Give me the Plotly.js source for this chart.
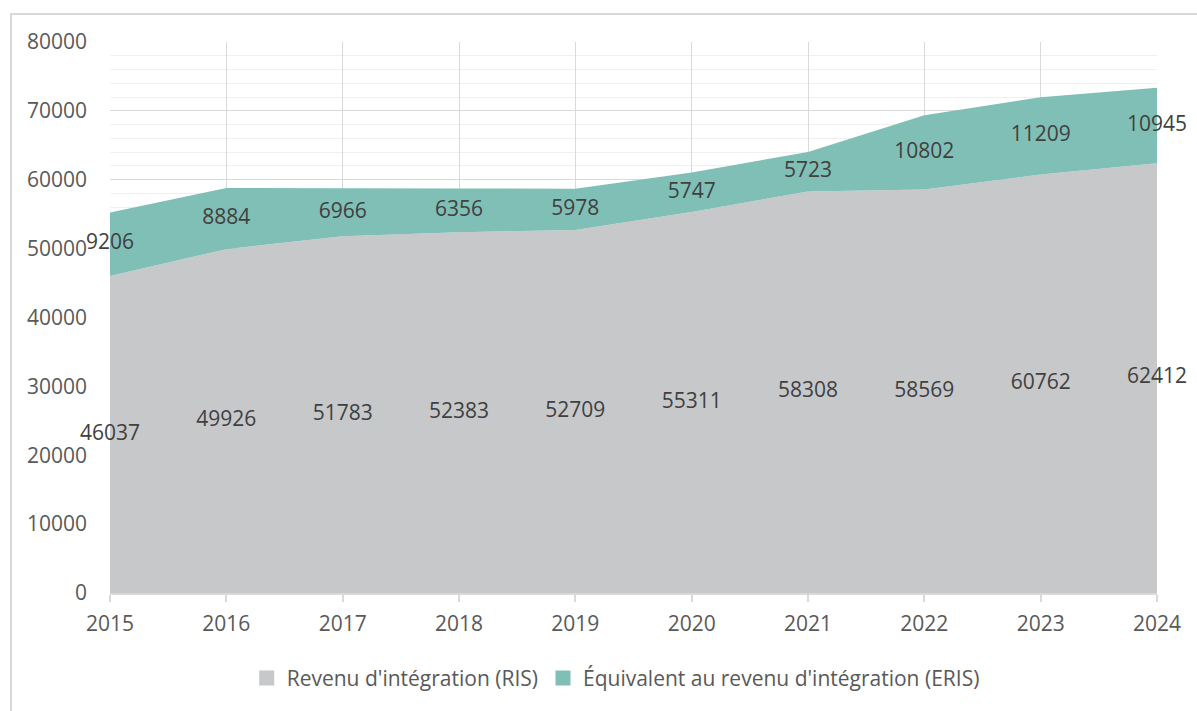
<!DOCTYPE html>
<html><head><meta charset="utf-8">
<script src="https://cdn.plot.ly/plotly-3.0.1.min.js"></script>
<style>
html,body{margin:0;padding:0;background:#fff;overflow:hidden;}
#frame{position:absolute;left:10px;top:13px;width:1300px;height:800px;border-left:2px solid #D9D9D9;border-top:2px solid #D9D9D9;box-sizing:border-box;pointer-events:none;}
#chart{position:absolute;left:0;top:0;width:1197px;height:711px;}
</style>
</head><body>
<div id="chart"></div>
<div id="frame"></div>
<script>
const years = [2015,2016,2017,2018,2019,2020,2021,2022,2023,2024];
const ris = [46037,49926,51783,52383,52709,55311,58308,58569,60762,62412];
const eris = [9206,8884,6966,6356,5978,5747,5723,10802,11209,10945];
const seriesNames = ["Revenu d'intégration (RIS)", "Équivalent au revenu d'intégration (ERIS)"];
const colors = ["#C7C8CA", "#80BFB6"];

const risMid = ris.map(v => v / 2);
const erisMid = ris.map((v, i) => v + eris[i] / 2);
const FONT = "Open Sans, Liberation Sans, sans-serif";
const labelFont = {family: FONT, size: 21, color: "#404040"};

const traces = [
  {x: years, y: ris, name: seriesNames[0], type: 'scatter', mode: 'none', stackgroup: 'a',
   fillcolor: colors[0], line: {width: 0}, showlegend: false, hoverinfo: 'y'},
  {x: years, y: eris, name: seriesNames[1], type: 'scatter', mode: 'none', stackgroup: 'a',
   fillcolor: colors[1], line: {width: 0}, showlegend: false, hoverinfo: 'y'},
  {x: years, y: risMid, text: ris.map(String), type: 'scatter', mode: 'text', textposition: 'middle center',
   textfont: labelFont, showlegend: false, cliponaxis: false, hoverinfo: 'skip'},
  {x: years, y: erisMid, text: eris.map(String), type: 'scatter', mode: 'text', textposition: 'middle center',
   textfont: labelFont, showlegend: false, cliponaxis: false, hoverinfo: 'skip'},
  // legend entries (square swatches)
  {x: [null], y: [null], name: seriesNames[0], type: 'scatter', mode: 'markers',
   marker: {symbol: 'square', size: 15, color: colors[0]}, showlegend: true},
  {x: [null], y: [null], name: seriesNames[1], type: 'scatter', mode: 'markers',
   marker: {symbol: 'square', size: 15, color: colors[1]}, showlegend: true}
];

const layout = {
  width: 1197, height: 711,
  margin: {l: 110, r: 40, t: 42, b: 116},
  paper_bgcolor: '#fff', plot_bgcolor: '#fff',
  font: {family: FONT, size: 21, color: "#595959"},
  showlegend: true,
  legend: {orientation: 'h', x: 0.483, xanchor: 'center', y: -0.155, yanchor: 'middle',
           font: {size: 21, color: '#595959'}, traceorder: 'normal', itemwidth: 30, tracegroupgap: 0},
  xaxis: {
    range: [2015, 2024], tickvals: years, ticktext: years.map(String),
    showgrid: true, gridcolor: '#D9D9D9', gridwidth: 1,
    showline: true, linecolor: '#D9D9D9', linewidth: 2,
    ticks: 'outside', ticklen: 7, tickcolor: '#D9D9D9', tickwidth: 2,
    zeroline: false, fixedrange: true, ticklabelstandoff: 4
  },
  yaxis: {
    range: [0, 80000], dtick: 10000, tickformat: 'd',
    showgrid: true, gridcolor: '#D9D9D9', gridwidth: 1,
    minor: {dtick: 2000, showgrid: true, gridcolor: '#F0F0F0', gridwidth: 1},
    showline: false, zeroline: false, ticks: '', fixedrange: true, ticklabelstandoff: 22
  }
};

Plotly.newPlot('chart', traces, layout, {displayModeBar: false, staticPlot: true});
</script>
</body></html>
